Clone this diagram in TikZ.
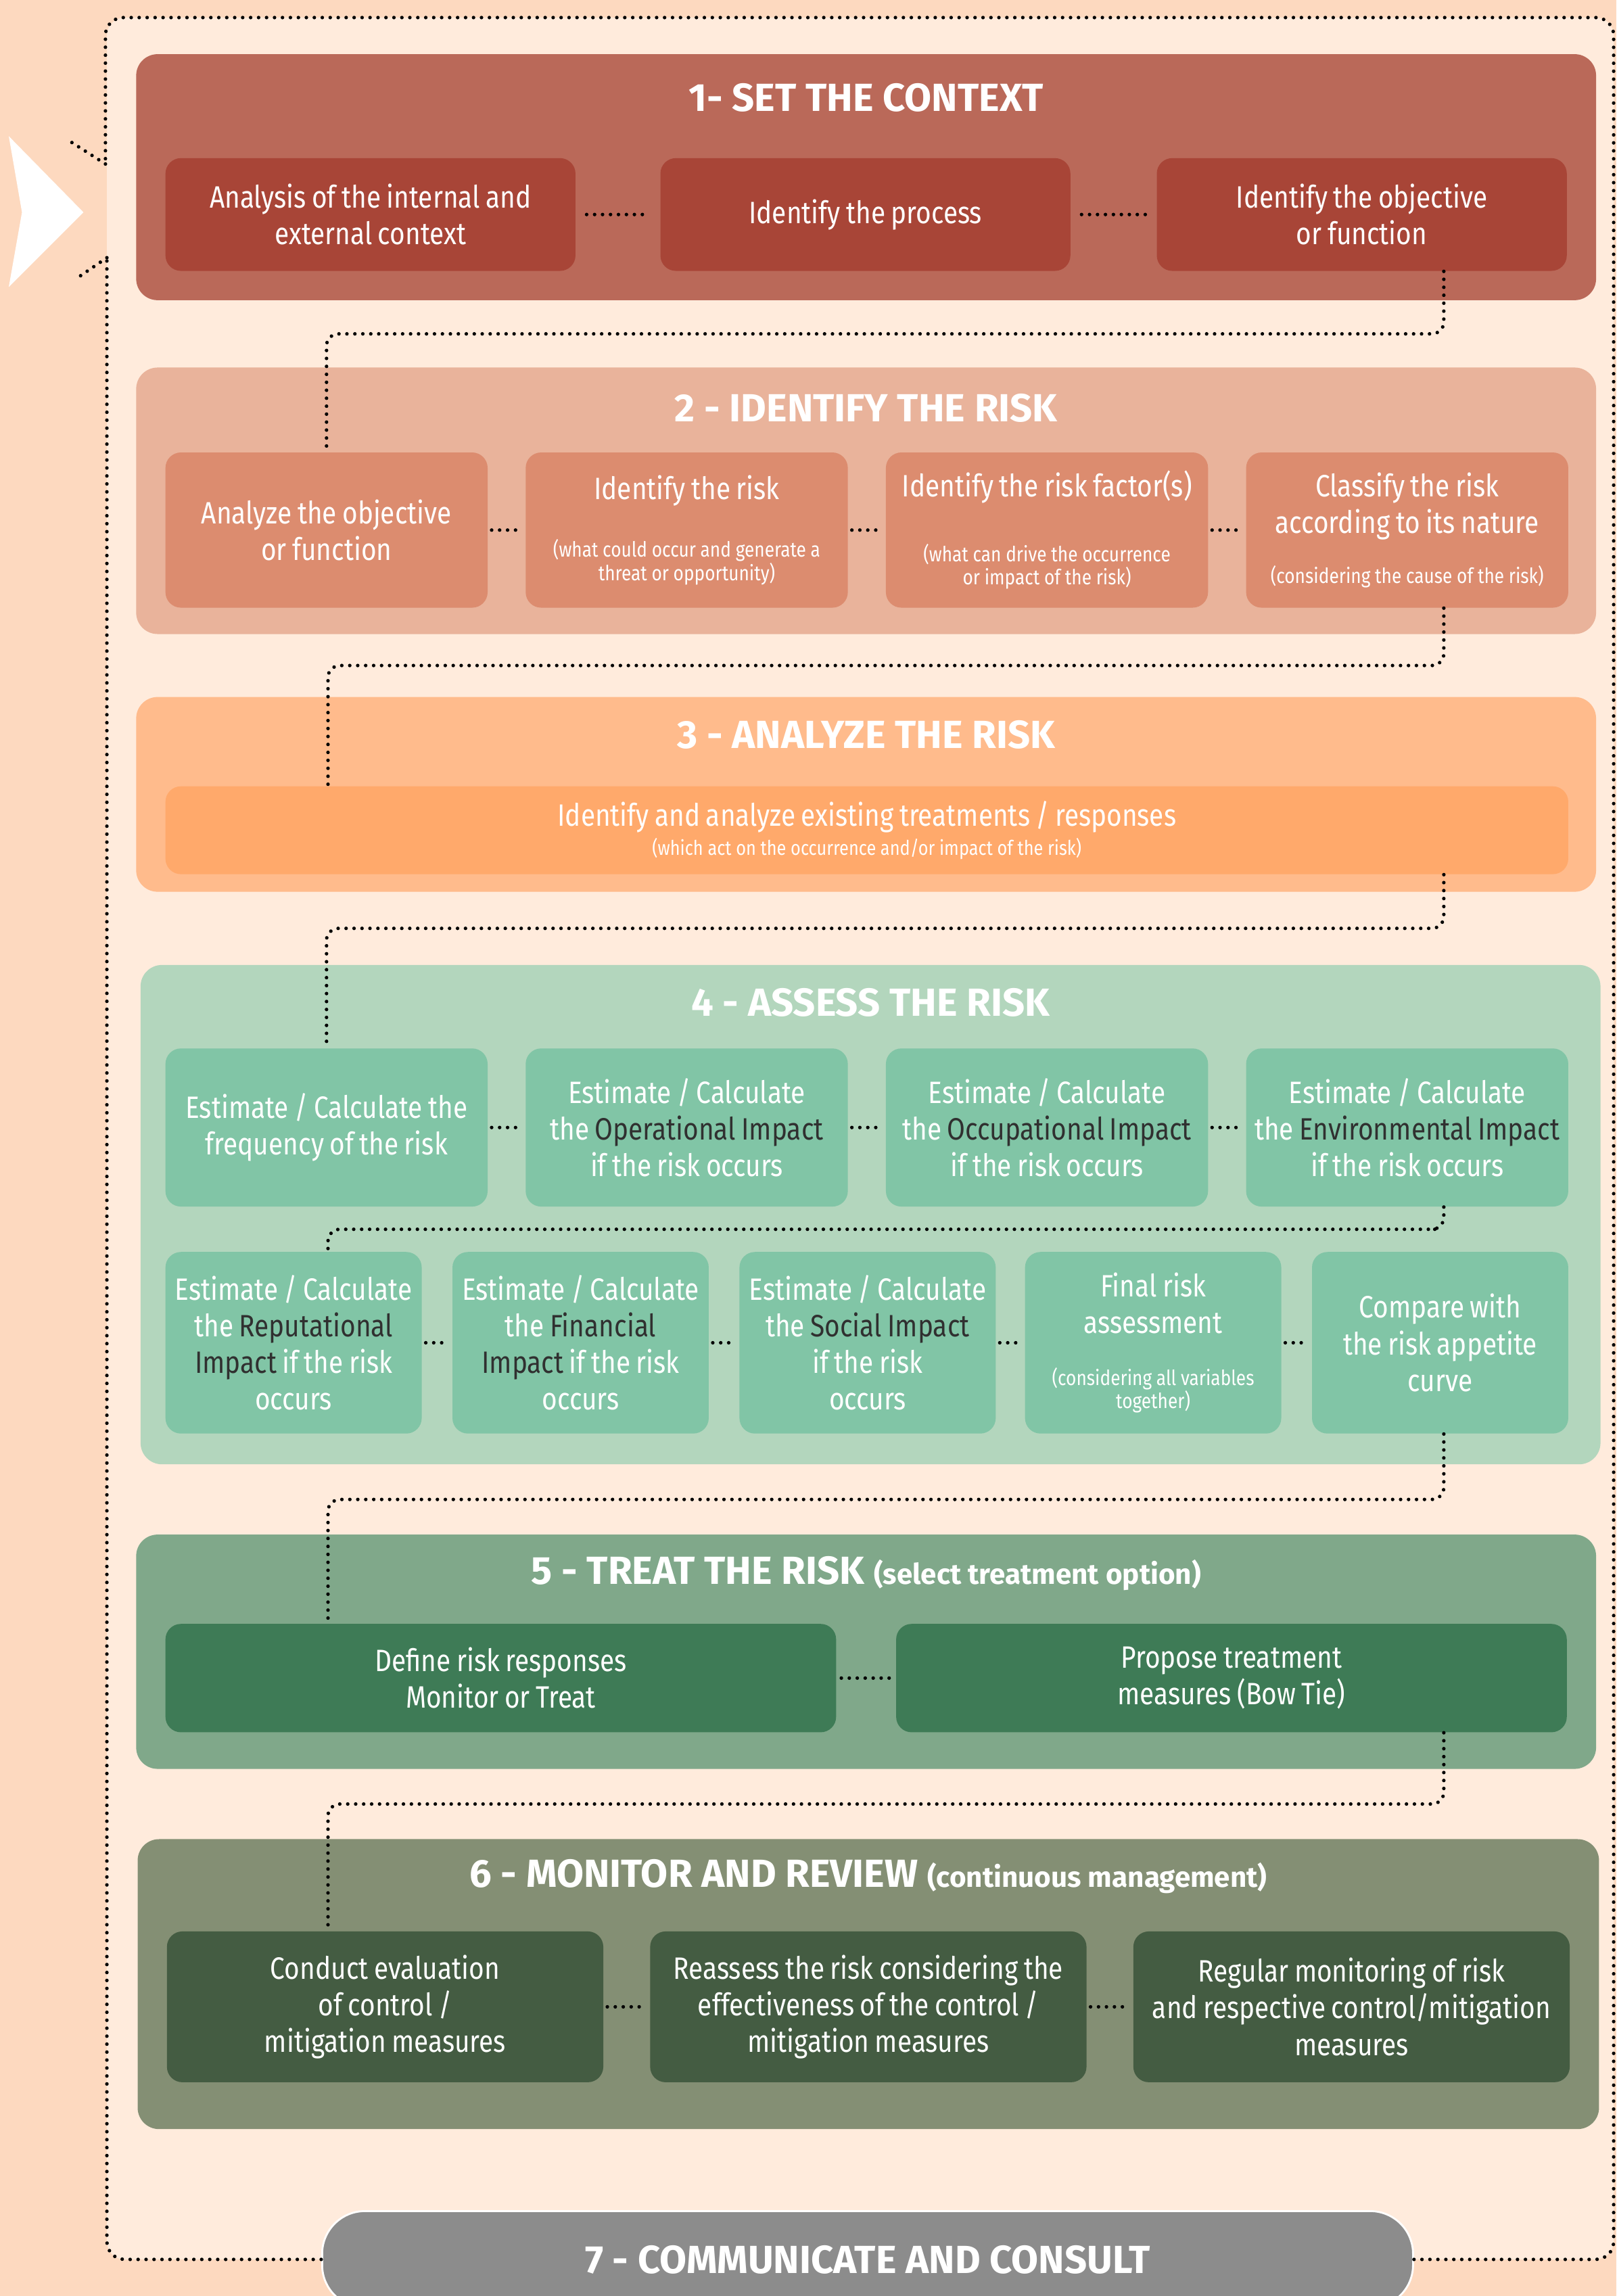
\documentclass[tikz,border=0pt]{standalone}
\usepackage{fontspec}
\setmainfont{Fira Sans}[FakeStretch=0.85]
\newfontfamily\headfont{Fira Sans}
\usepackage{xcolor}
\usetikzlibrary{calc}
\definecolor{pagepeach}{HTML}{FDD9BF}
\definecolor{panel}{HTML}{FFEBDC}
\definecolor{s1out}{HTML}{BA6959}
\definecolor{s1in}{HTML}{A84537}
\definecolor{s2out}{HTML}{E9B39B}
\definecolor{s2in}{HTML}{DC8C6F}
\definecolor{s3out}{HTML}{FFBB8C}
\definecolor{s3in}{HTML}{FFA96B}
\definecolor{s4out}{HTML}{B3D6BD}
\definecolor{s4in}{HTML}{81C5A6}
\definecolor{s5out}{HTML}{80A88A}
\definecolor{s5in}{HTML}{3E7B56}
\definecolor{s6out}{HTML}{848F74}
\definecolor{s6in}{HTML}{445C42}
\definecolor{commgray}{HTML}{8C8C8C}
\definecolor{darktext}{HTML}{303030}
\newcommand\upx{0.61623pt}
\newcommand\dk[1]{\textcolor{darktext}{#1}}
\newcommand\smalltxt{\centering\fontsize{8.8}{9.9}\selectfont\spaceskip=1.9pt\relax}
\newcommand\subhead{\fontsize{12}{14}\selectfont}

\begin{document}
\begin{tikzpicture}[x=0.61623pt,y=-0.61623pt,
  sec/.style 2 args={rounded corners=9pt,inner sep=0pt,minimum width=#1*\upx,minimum height=#2*\upx},
  sub/.style 2 args={rounded corners=6.5pt,inner sep=0pt,text=white,align=center,
    minimum width=#1*\upx,text width=#1*\upx,minimum height=#2*\upx,font=\fontsize{13}{15.4}\selectfont,
    execute at begin node={\spaceskip=2.4pt\relax}},
  head/.style={text=white,inner sep=0pt,font=\headfont\bfseries\fontsize{16.5}{19}\selectfont},
  link/.style={line width=1.5pt,dash pattern=on 0pt off 3.35pt,line cap=round},
  shortlink/.style={link,shorten >=#1,shorten <=#1},shortlink/.default=1.5pt]
\useasboundingbox (0,0) rectangle (1104,1568);
\clip (0,0) rectangle (1104,1568);
\fill[pagepeach] (0,0) rectangle (1104,1568);
\fill[panel,rounded corners=7.5pt] (73,12) rectangle (1102,1543);
\fill[white] (6,93) -- (57,145) -- (6,196) -- (15,145) -- cycle;

\node[sec={997}{168},fill=s1out] (s1) at (591.5,121) {};
\node[head] (t1) at ($(s1.north)+(0,30)$) {1- SET THE CONTEXT};
\node[sub={280}{77},fill=s1in] (c1) at (253,146.5) {Analysis of the internal and\\external context};
\node[sub={280}{77},fill=s1in] (c2) at (591,146.5) {Identify the process};
\node[sub={280}{77},fill=s1in] (c3) at (930,146.5) {Identify the objective\\or function};

\node[sec={997}{182},fill=s2out] (s2) at (591.5,342) {};
\node[head] (t2) at ($(s2.north)+(0,28)$) {2 - IDENTIFY THE RISK};
\node[sub={220}{106},fill=s2in] (i1) at (223,362) {Analyze the objective\\or function};
\node[sub={220}{106},fill=s2in] (i2) at (469,362) {Identify the risk\par\vspace{13pt}\smalltxt (what could occur and generate a\\threat or opportunity)\par};
\node[sub={220}{106},fill=s2in] (i3) at (715,362) {Identify the risk factor(s)\par\vspace{16pt}\smalltxt (what can drive the occurrence\\or impact of the risk)\par};
\node[sub={220}{106},fill=s2in] (i4) at (961,362) {Classify the risk\\according to its nature\par\vspace{10pt}\smalltxt (considering the cause of the risk)\par};

\node[sec={997}{133},fill=s3out] (s3) at (591.5,542.5) {};
\node[head] (t3) at ($(s3.north)+(0,26)$) {3 - ANALYZE THE RISK};
\node[sub={958}{60},fill=s3in] (a1) at (592,567) {Identify and analyze existing treatments / responses\par\vspace{1.5pt}\smalltxt\fontsize{8.5}{9.6}\selectfont (which act on the occurrence and/or impact of the risk)\par};

\node[sec={997}{341},fill=s4out] (s4) at (594.5,829.5) {};
\node[head] (t4) at ($(s4.north)+(0,26)$) {4 - ASSESS THE RISK};
\node[sub={220}{108},fill=s4in] (e1) at (223,770) {Estimate / Calculate the\\frequency of the risk};
\node[sub={220}{108},fill=s4in] (e2) at (469,770) {Estimate / Calculate\\the \dk{Operational Impact}\\if the risk occurs};
\node[sub={220}{108},fill=s4in] (e3) at (715,770) {Estimate / Calculate\\the \dk{Occupational Impact}\\if the risk occurs};
\node[sub={220}{108},fill=s4in] (e4) at (961,770) {Estimate / Calculate\\the \dk{Environmental Impact}\\if the risk occurs};
\node[sub={175}{124},fill=s4in] (f1) at (200.5,917) {Estimate / Calculate\\the \dk{Reputational}\\\dk{Impact} if the risk\\occurs};
\node[sub={175}{124},fill=s4in] (f2) at (396.5,917) {Estimate / Calculate\\the \dk{Financial}\\\dk{Impact} if the risk\\occurs};
\node[sub={175}{124},fill=s4in] (f3) at (592.5,917) {Estimate / Calculate\\the \dk{Social Impact}\\if the risk\\occurs};
\node[sub={175}{124},fill=s4in] (f4) at (787.5,917) {Final risk\\assessment\par\vspace{12pt}\smalltxt (considering all variables\\together)\par};
\node[sub={175}{124},fill=s4in] (f5) at (983.5,917) {Compare with\\the risk appetite\\curve};

\node[sec={997}{160},fill=s5out] (s5) at (591.5,1128) {};
\node[head] (t5) at ($(s5.north)+(0,27)$) {5 - TREAT THE RISK {\subhead (select treatment option)}};
\node[sub={458}{74},fill=s5in] (m1) at (342,1146) {Define risk responses\\Monitor or Treat};
\node[sub={458}{74},fill=s5in] (m2) at (841,1146) {Propose treatment\\measures (Bow Tie)};

\node[sec={998}{198},fill=s6out] (s6) at (593,1355) {};
\node[head] (t6) at ($(s6.north)+(0,26)$) {6 - MONITOR AND REVIEW {\subhead (continuous management)}};
\node[sub={298}{103},fill=s6in] (r1) at (263,1370.5) {Conduct evaluation\\of control /\\mitigation measures};
\node[sub={298}{103},fill=s6in] (r2) at (593,1370.5) {Reassess the risk considering the\\effectiveness of the control /\\mitigation measures};
\node[sub={298}{103},fill=s6in] (r3) at (923,1370.5) {Regular monitoring of risk\\and respective control/mitigation\\measures};

\node[head,draw=white,line width=0.8pt,fill=commgray,rounded corners=18pt,
  minimum width=745*\upx,minimum height=66*\upx] (g7) at (592.5,1543) {7 - COMMUNICATE AND CONSULT};

\draw[shortlink=4.5pt] (c1.east) -- (c2.west);
\draw[shortlink=4.5pt] (c2.east) -- (c3.west);
\draw[shortlink] (i1.east) -- (i2.west);
\draw[shortlink] (i2.east) -- (i3.west);
\draw[shortlink] (i3.east) -- (i4.west);
\draw[shortlink] (e1.east) -- (e2.west);
\draw[shortlink] (e2.east) -- (e3.west);
\draw[shortlink] (e3.east) -- (e4.west);
\draw[shortlink] (f1.east) -- (f2.west);
\draw[shortlink] (f2.east) -- (f3.west);
\draw[shortlink] (f3.east) -- (f4.west);
\draw[shortlink] (f4.east) -- (f5.west);
\draw[shortlink=2pt] (m1.east) -- (m2.west);
\draw[shortlink] (r1.east) -- (r2.west);
\draw[shortlink] (r2.east) -- (r3.west);

\coordinate (rx) at (986,0);
\coordinate (lx) at (224,0);
\draw[link,rounded corners=5pt] (c3.south -| rx) |- ($(s1.south)!.5!(s2.north)$) -| (i1.north);
\draw[link,rounded corners=5pt] (i4.south -| rx) |- ($(s2.south)!.5!(s3.north)$) -| (a1.north -| lx);
\draw[link,rounded corners=5pt] (a1.south -| rx) |- ($(s3.south)!.5!(s4.north)$) -| (e1.north);
\draw[link,rounded corners=5pt] (e4.south -| rx) |- ($(e4.south)!.5!(f5.north)$) -| (f1.north -| lx);
\draw[link,rounded corners=5pt] (f5.south -| rx) |- ($(s4.south)!.5!(s5.north)$) -| (m1.north -| lx);
\draw[link,rounded corners=5pt] (m2.south -| rx) |- ($(s5.south)!.5!(s6.north)$) -| (r1.north -| lx);

\coordinate (ne) at (1102,12);
\coordinate (ta) at (72,112);
\coordinate (tabarb) at (47,96);
\coordinate (tb) at (73,176);
\coordinate (tbbarb) at (54,189);
\draw[link,rounded corners=7.5pt] (g7.east) -| (ne) -| (ta);
\draw[link] (ta) -- (tabarb);
\draw[link,rounded corners=7.5pt] (g7.west) -| (tb);
\draw[link] (tb) -- (tbbarb);
\end{tikzpicture}
\end{document}
